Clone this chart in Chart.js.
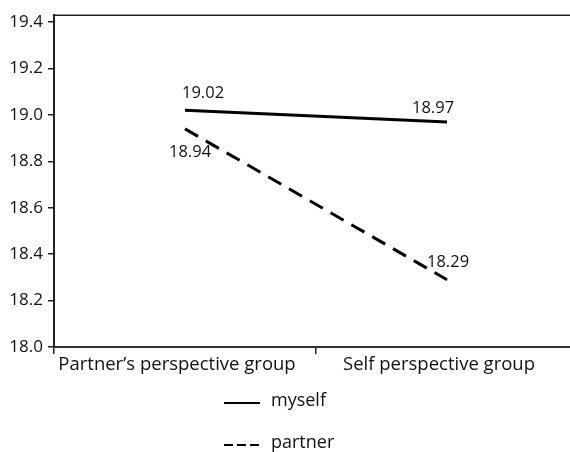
<!DOCTYPE html>
<html>
<head>
<meta charset="utf-8">
<script src="https://cdn.jsdelivr.net/npm/chart.js@4/dist/chart.umd.min.js"></script>
<style>
  html, body { margin: 0; padding: 0; background: #fff; overflow: hidden; }
  #wrap { width: 578px; height: 452px; }
</style>
</head>
<body>
<div id="wrap"><canvas id="chart"></canvas></div>
<script>
// Chart data
const groups = ["Partner\u2019s perspective group", "Self perspective group"];
const seriesNames = ["myself", "partner"];
const myselfValues = [19.02, 18.97];
const partnerValues = [18.94, 18.29];
const yTicks = [18.0, 18.2, 18.4, 18.6, 18.8, 19.0, 19.2, 19.4];

const FONT = "'Open Sans'";

// Draws the top border, the value labels and the vertical legend
const extras = {
    id: 'extras',
    afterDraw(chart, args, opts) {
        const ctx = chart.ctx;
        const area = chart.chartArea;
        ctx.save();

        // top frame line
        ctx.strokeStyle = '#222';
        ctx.lineWidth = 1.5;
        ctx.beginPath();
        ctx.moveTo(area.left, area.top);
        ctx.lineTo(chart.width, area.top);
        ctx.stroke();

        // value labels
        ctx.font = '16.5px ' + FONT;
        ctx.fillStyle = '#111';
        ctx.textBaseline = 'middle';
        ctx.textAlign = 'left';
        chart.data.datasets.forEach((ds, di) => {
            const meta = chart.getDatasetMeta(di);
            meta.data.forEach((pt, i) => {
                const off = opts.offsets[di][i];
                ctx.fillText(ds.data[i].toFixed(2), pt.x + off[0], pt.y + off[1]);
            });
        });

        // legend (one item per row)
        const x0 = opts.legendX;
        ctx.font = '18px ' + FONT;
        chart.data.datasets.forEach((ds, di) => {
            const y = opts.legendY + di * opts.legendGap;
            ctx.strokeStyle = ds.borderColor;
            ctx.lineWidth = 2;
            ctx.setLineDash(di === 1 ? [9, 4] : []);
            ctx.beginPath();
            ctx.moveTo(x0, y);
            ctx.lineTo(x0 + 36, y);
            ctx.stroke();
            ctx.setLineDash([]);
            ctx.fillText(ds.label, x0 + 47, y - 2);
        });
        ctx.restore();
    }
};

new Chart(document.getElementById('chart').getContext('2d'), {
    type: 'line',
    data: {
        labels: groups,
        datasets: [{
            label: seriesNames[0],
            data: myselfValues,
            borderColor: '#000',
            borderWidth: 3,
            pointRadius: 0,
            tension: 0
        }, {
            label: seriesNames[1],
            data: partnerValues,
            borderColor: '#000',
            borderWidth: 3,
            borderDash: [15, 9],
            pointRadius: 0,
            tension: 0
        }]
    },
    options: {
        responsive: true,
        maintainAspectRatio: false,
        animation: false,
        layout: { padding: { top: 15, bottom: 75, left: 0, right: 0 } },
        plugins: {
            legend: { display: false },
            tooltip: { enabled: false },
            extras: {
                offsets: [[[-3, -17], [-35, -14]], [[-16, 23], [-20, -17]]],
                legendX: 224,
                legendY: 403,
                legendGap: 42
            }
        },
        scales: {
            x: {
                offset: true,
                grid: { offset: true, drawOnChartArea: false, tickLength: 7, color: '#222', lineWidth: 1.5 },
                border: { display: true, color: '#333', width: 2 },
                ticks: { color: '#111', font: { family: FONT, size: 18.5 }, padding: 0, labelOffset: -8, maxRotation: 0 },
                afterFit(scale) { scale.height = 30; }
            },
            y: {
                min: 18.0,
                max: 19.43,
                grid: { drawOnChartArea: false, tickLength: 6, color: '#222', lineWidth: 1.5 },
                border: { display: true, color: '#222', width: 2 },
                afterBuildTicks(scale) { scale.ticks = yTicks.map(v => ({ value: v })); },
                ticks: {
                    color: '#111',
                    font: { family: FONT, size: 17 },
                    padding: 5,
                    callback: v => Number(v).toFixed(1)
                },
                afterFit(scale) { scale.width = 54; }
            }
        }
    },
    plugins: [extras]
});
</script>
</body>
</html>
